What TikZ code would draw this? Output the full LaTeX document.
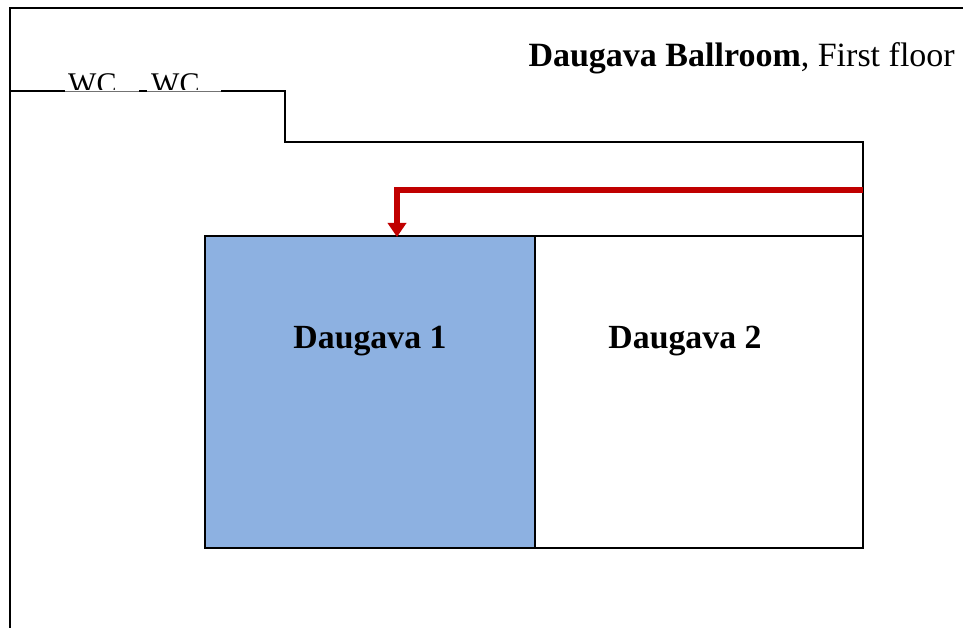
\documentclass[tikz,border=0pt]{standalone}
\usepackage{fontspec}
\setmainfont{Liberation Serif}
\usetikzlibrary{arrows.meta}
\definecolor{roomblue}{HTML}{8DB1E1}
\definecolor{routered}{HTML}{C00000}
\tikzset{
  wall/.style={draw=black,line width=1.6pt},
  thinwall/.style={draw=black!55,line width=0.8pt},
  room/.style={draw=black,line width=1.6pt,inner sep=0pt,outer sep=0pt,anchor=north west},
  roomlabel/.style={font=\fontsize{33.8}{38}\selectfont\bfseries,inner sep=0pt,anchor=base},
  titlelabel/.style={font=\fontsize{34}{38}\selectfont,inner sep=0pt,anchor=base east},
  wclabel/.style={font=\fontsize{30}{34}\selectfont,inner sep=0pt,anchor=base west},
  route/.style={draw=routered,line width=6pt,-{Triangle[length=14pt,width=18pt]}}
}
\begin{document}
\begin{tikzpicture}[x=1pt,y=-1pt]
\useasboundingbox (0,0) rectangle (963,628);
% outer walls
\coordinate (tr) at (963,8);
\coordinate (tl) at (10,8);
\coordinate (bl) at (10,628);
\coordinate (w0) at (10,91);
\coordinate (w1) at (65,91);
\coordinate (w2) at (139,91);
\coordinate (w3) at (147,91);
\coordinate (w4) at (221,91);
\coordinate (w5) at (285,91);
\coordinate (w6) at (285,142);
\coordinate (w7) at (863,142);
\coordinate (w8) at (863,236);
\draw[wall] (tr) -- (tl) -- (bl);
\draw[wall] (w0) -- (w1);
\draw[thinwall] (w1) -- (w2);
\draw[wall] (w2) -- (w3);
\draw[thinwall] (w3) -- (w4);
\draw[wall,line join=miter] (w4) -- (w5) -- (w6) -- (w7) -- (w8);
% rooms
\node[room,fill=white,minimum width=358pt,minimum height=312pt] (d2) at (505,236) {};
\node[room,fill=roomblue,minimum width=330pt,minimum height=312pt] (d1) at (205,236) {};
\node[roomlabel] (l1) at (370,348) {Daugava 1};
\node[roomlabel] (l2) at (685,348) {Daugava 2};
% title
\node[titlelabel] (title) at (955,66.5) {\textbf{Daugava Ballroom}, First floor};
% WC labels, cut off by the wall line
\begin{scope}
\clip (60,60) rectangle (225,90);
\node[wclabel] (wc1) at (68,94) {WC};
\node[wclabel] (wc2) at (151,94) {WC};
\end{scope}
% route
\coordinate (rs) at (863,189.6);
\coordinate (rc) at (397,189.6);
\coordinate (re) at (397,237);
\draw[route] (rs) -- (rc) -- (re);
\end{tikzpicture}
\end{document}
